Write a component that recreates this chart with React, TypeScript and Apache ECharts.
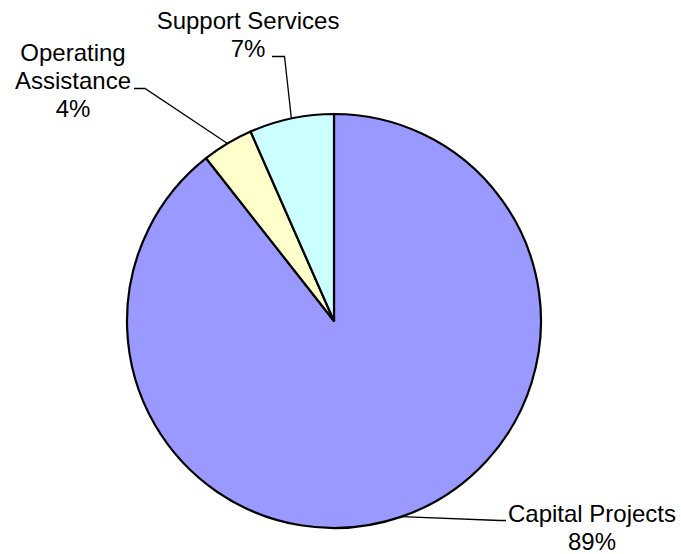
import React, { useEffect, useRef } from 'react';
import * as echarts from 'echarts';

const categories = ['Capital Projects', 'Operating\nAssistance', 'Support Services'];
const shares = [89.4, 4.0, 6.6];
const colors = ['#9999FF', '#FFFFCC', '#CCFFFF'];

export default function App() {
  const ref = useRef<HTMLDivElement>(null);
  useEffect(() => {
    const chart = echarts.init(ref.current!, null, { renderer: 'svg' });
    const labelPos: { x: number; y: number; line: number[][] }[] = [
      { x: 592, y: 527, line: [[500, 520.5], [506, 520.5]] },
      { x: 73, y: 80, line: [[145, 88.5], [134, 88.5]] },
      { x: 248, y: 34, line: [[284.5, 56.5], [272, 56.5]] },
    ];
    chart.setOption({
      animation: false,
      backgroundColor: '#ffffff',
      series: [
        {
          type: 'pie',
          center: [334, 321],
          radius: 207,
          startAngle: 90,
          clockwise: true,
          percentPrecision: 0,
          data: categories.map((name, i) => ({
            name,
            value: shares[i],
            itemStyle: { color: colors[i] },
          })),
          itemStyle: { borderColor: '#000000', borderWidth: 2.2 },
          label: {
            show: true,
            formatter: '{b}\n{d}%',
            color: '#000000',
            fontFamily: 'Liberation Sans, Arial, sans-serif',
            fontSize: 24,
            lineHeight: 28,
            align: 'center',
          },
          labelLine: {
            show: true,
            lineStyle: { color: '#000000', width: 1.3 },
          },
          emphasis: { disabled: true },
          labelLayout: (params: any) => {
            const p = labelPos[params.dataIndex];
            const start = params.labelLinePoints ? params.labelLinePoints[0] : null;
            return {
              x: p.x,
              y: p.y,
              align: 'center',
              verticalAlign: 'middle',
              labelLinePoints: start ? [start, ...p.line] : undefined,
            };
          },
        },
      ],
    });
    return () => chart.dispose();
  }, []);
  return (
    <div
      ref={ref}
      style={{ position: 'absolute', left: 0, top: 0, width: 681, height: 554 }}
    />
  );
}
